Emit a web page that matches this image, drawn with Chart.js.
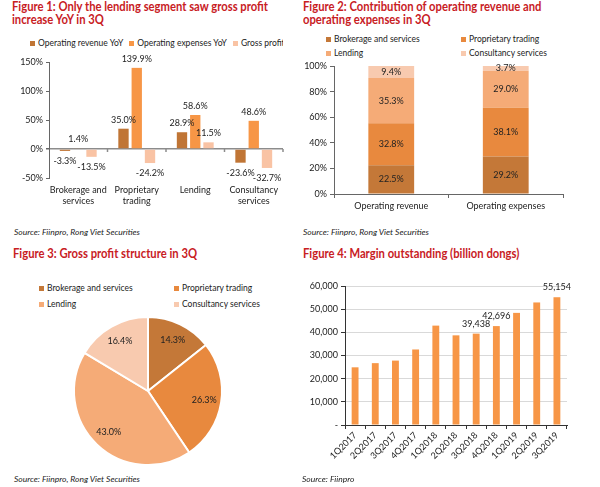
<!DOCTYPE html>
<html>
<head>
<meta charset="utf-8">
<script src="https://cdn.jsdelivr.net/npm/chart.js@4.4.0/dist/chart.umd.min.js"></script>
<style>
  body { margin: 0; width: 600px; height: 487px; background: #fff; position: relative; overflow: hidden;
         font-family: Lato, "Open Sans", sans-serif; color: #222; }
  .title { position: absolute; color: #C8201F; font-weight: bold; font-size: 12.5px; line-height: 13px;
           font-family: Lato, sans-serif; white-space: nowrap; transform: scaleX(0.9); transform-origin: left top; }
  .source { position: absolute; font-style: italic; font-size: 8.5px; line-height: 12px; white-space: nowrap; }
  .box { position: absolute; }
  .legend { position: absolute; font-size: 8.5px; white-space: nowrap; overflow: hidden; }
  .legend .item { display: flex; align-items: center; }
  .legend i { display: inline-block; width: 5px; height: 5px; margin-right: 3px; }
  #legend1 { display: flex; line-height: 12px; }
  #legend1 .item { margin-right: 6px; }
  #legend2, #legend3 { display: grid; grid-template-columns: 135px 135px; }
  #legend2 { line-height: 14px; }
  #legend3 { line-height: 16px; }
</style>
</head>
<body>

<div class="title" style="left:12px; top:0px">Figure 1: Only the lending segment saw gross profit<br>increase YoY in 3Q</div>
<div class="legend" id="legend1" style="left:30px; top:37px; width:253px"></div>
<div class="box" style="left:0; top:50px; width:290px; height:162px"><canvas id="chart1"></canvas></div>
<div class="source" style="left:14px; top:226px">Source: Fiinpro, Rong Viet Securities</div>

<div class="title" style="left:303px; top:0px">Figure 2: Contribution of operating revenue and<br>operating expenses in 3Q</div>
<div class="legend" id="legend2" style="left:326px; top:32px"></div>
<div class="box" style="left:300px; top:56px; width:300px; height:158px"><canvas id="chart2"></canvas></div>
<div class="source" style="left:303px; top:226px">Source: Fiinpro, Rong Viet Securities</div>

<div class="title" style="left:13px; top:247px">Figure 3: Gross profit structure in 3Q</div>
<div class="legend" id="legend3" style="left:39px; top:280px"></div>
<div class="box" style="left:0; top:311px; width:300px; height:160px"><canvas id="chart3"></canvas></div>
<div class="source" style="left:14px; top:473px">Source: Fiinpro, Rong Viet Securities</div>

<div class="title" style="left:303px; top:247px">Figure 4: Margin outstanding (billion dongs)</div>
<div class="box" style="left:300px; top:275px; width:300px; height:200px"><canvas id="chart4"></canvas></div>
<div class="source" style="left:302px; top:473px">Source: Fiinpro</div>

<script>
// Figure 1 - YoY growth by segment (%)
const segments1 = [['Brokerage and', 'services'], ['Proprietary', 'trading'], 'Lending', ['Consultancy', 'services']];
const revenueYoY = [-3.3, 35.0, 28.9, -23.6];
const expensesYoY = [1.4, 139.9, 58.6, 48.6];
const grossProfitYoY = [-13.5, -24.2, 11.5, -32.7];

// Figure 2 - contribution (%)
const segmentNames = ['Brokerage and services', 'Proprietary trading', 'Lending', 'Consultancy services'];
const contribCategories = ['Operating revenue', 'Operating expenses'];
const brokerageShare = [22.5, 29.2];
const proprietaryShare = [32.8, 38.1];
const lendingShare = [35.3, 29.0];
const consultancyShare = [9.4, 3.7];

// Figure 3 - gross profit structure (%)
const grossProfitShare = [14.3, 26.3, 43.0, 16.4];

// Figure 4 - margin outstanding (billion dongs)
const quarters = ['1Q2017', '2Q2017', '3Q2017', '4Q2017', '1Q2018', '2Q2018', '3Q2018', '4Q2018', '1Q2019', '2Q2019', '3Q2019'];
const marginOutstanding = [24900, 26700, 27800, 32600, 42900, 38700, 39438, 42696, 48400, 52900, 55154];
const labelledQuarters = ['3Q2018', '4Q2018', '3Q2019'];

const segmentColors = ['#C47838', '#E8893E', '#F5AB77', '#F8CAAF'];
const FONT = 'Lato';

Chart.defaults.font.family = FONT;
Chart.defaults.font.size = 9;
Chart.defaults.color = '#222';
Chart.defaults.animation = false;
Chart.defaults.responsive = true;
Chart.defaults.maintainAspectRatio = false;
Chart.defaults.plugins.legend.display = false;
Chart.defaults.plugins.tooltip.enabled = false;

// build an html legend from the chart's own legend items
function htmlLegend(chart, id) {
  const el = document.getElementById(id);
  const items = chart.options.plugins.legend.labels.generateLabels(chart);
  items.forEach(item => {
    const div = document.createElement('div');
    div.className = 'item';
    div.innerHTML = `<i style="background:${item.fillStyle}"></i>${item.text}`;
    el.appendChild(div);
  });
}

function fixWidth(w) {
  return scale => { scale.width = w; };
}
function fixHeight(h) {
  return scale => { scale.height = h; };
}

// Figure 1
const chart1 = new Chart(document.getElementById('chart1'), {
  type: 'bar',
  data: {
    labels: segments1,
    datasets: [
      { label: 'Operating revenue YoY', data: revenueYoY, backgroundColor: '#C07535' },
      { label: 'Operating expenses YoY', data: expensesYoY, backgroundColor: '#F79646' },
      { label: 'Gross profit YoY', data: grossProfitYoY, backgroundColor: '#F9C3A4' }
    ]
  },
  options: {
    layout: { padding: { top: 12, right: 7, bottom: 0, left: 0 } },
    datasets: { bar: { categoryPercentage: 0.68, barPercentage: 0.78 } },
    scales: {
      x: {
        grid: { display: false, drawTicks: false },
        border: { display: false },
        ticks: { padding: 7, maxRotation: 0, autoSkip: false },
        afterFit: fixHeight(34)
      },
      y: {
        min: -50, max: 150,
        ticks: { stepSize: 50, padding: 3, callback: v => v + '%' },
        grid: {
          color: c => c.tick && c.tick.value === 0 ? '#8C8C8C' : 'transparent',
          lineWidth: c => c.tick && c.tick.value === 0 ? 1.5 : 1,
          tickColor: '#666', tickLength: 3
        },
        border: { color: '#666' },
        afterFit: fixWidth(49)
      }
    }
  },
  plugins: [{
    id: 'labels1',
    afterDatasetsDraw(chart) {
      const ctx = chart.ctx;
      ctx.save();
      ctx.font = `9px ${FONT}`;
      ctx.fillStyle = '#222';
      ctx.textAlign = 'center';
      ctx.textBaseline = 'middle';
      chart.data.datasets.forEach((ds, i) => {
        chart.getDatasetMeta(i).data.forEach((bar, j) => {
          const v = ds.data[j];
          ctx.fillText(v.toFixed(1) + '%', bar.x, v >= 0 ? bar.y - 9 : bar.y + 10);
        });
      });
      // little ticks on the zero line between categories
      const xs = chart.scales.x;
      const y0 = chart.scales.y.getPixelForValue(0);
      ctx.strokeStyle = '#8C8C8C';
      ctx.lineWidth = 1.5;
      for (let k = 1; k <= segments1.length; k++) {
        const x = k < segments1.length ? (xs.getPixelForTick(k - 1) + xs.getPixelForTick(k)) / 2 : xs.right;
        ctx.beginPath();
        ctx.moveTo(x, y0);
        ctx.lineTo(x, y0 + 3);
        ctx.stroke();
      }
      ctx.restore();
    }
  }]
});
htmlLegend(chart1, 'legend1');

// Figure 2
const shares = [brokerageShare, proprietaryShare, lendingShare, consultancyShare];
const chart2 = new Chart(document.getElementById('chart2'), {
  type: 'bar',
  data: {
    labels: contribCategories,
    datasets: segmentNames.map((name, i) => ({
      label: name, data: shares[i], backgroundColor: segmentColors[i]
    }))
  },
  options: {
    layout: { padding: { top: 10, right: 37, bottom: 0, left: 0 } },
    datasets: { bar: { categoryPercentage: 0.8, barPercentage: 0.5 } },
    scales: {
      x: {
        stacked: true,
        grid: { drawOnChartArea: false, tickLength: 4, tickColor: '#666' },
        border: { color: '#666' },
        ticks: { padding: 3 },
        afterFit: fixHeight(20)
      },
      y: {
        stacked: true,
        min: 0, max: 100,
        ticks: { stepSize: 20, padding: 3, callback: v => v + '%' },
        grid: { drawOnChartArea: false, tickLength: 4, tickColor: '#666' },
        border: { color: '#666' },
        afterFit: fixWidth(34)
      }
    }
  },
  plugins: [{
    id: 'labels2',
    afterDatasetsDraw(chart) {
      const ctx = chart.ctx;
      ctx.save();
      ctx.font = `9px ${FONT}`;
      ctx.fillStyle = '#222';
      ctx.textAlign = 'center';
      ctx.textBaseline = 'middle';
      chart.data.datasets.forEach((ds, i) => {
        chart.getDatasetMeta(i).data.forEach((bar, j) => {
          const { x, y, base } = bar.getProps(['x', 'y', 'base'], true);
          ctx.fillText(ds.data[j].toFixed(1) + '%', x, (y + base) / 2);
        });
      });
      ctx.restore();
    }
  }]
});
htmlLegend(chart2, 'legend2');

// Figure 3
const chart3 = new Chart(document.getElementById('chart3'), {
  type: 'pie',
  data: {
    labels: segmentNames,
    datasets: [{ data: grossProfitShare, backgroundColor: segmentColors, borderColor: '#fff', borderWidth: 2 }]
  },
  options: {
    layout: { padding: { top: 5, right: 4, bottom: 5, left: 0 } }
  },
  plugins: [{
    id: 'labels3',
    afterDatasetsDraw(chart) {
      const ctx = chart.ctx;
      ctx.save();
      ctx.font = `9px ${FONT}`;
      ctx.fillStyle = '#222';
      ctx.textAlign = 'center';
      ctx.textBaseline = 'middle';
      chart.getDatasetMeta(0).data.forEach((arc, j) => {
        const { x, y, startAngle, endAngle, outerRadius } = arc.getProps(['x', 'y', 'startAngle', 'endAngle', 'outerRadius'], true);
        const mid = (startAngle + endAngle) / 2;
        const r = outerRadius * 0.77;
        ctx.fillText(grossProfitShare[j].toFixed(1) + '%', x + Math.cos(mid) * r, y + Math.sin(mid) * r);
      });
      ctx.restore();
    }
  }]
});
htmlLegend(chart3, 'legend3');

// Figure 4
new Chart(document.getElementById('chart4'), {
  type: 'bar',
  data: {
    labels: quarters,
    datasets: [{ label: 'Margin outstanding', data: marginOutstanding, backgroundColor: '#F79646' }]
  },
  options: {
    layout: { padding: { top: 11, right: 33, bottom: 0, left: 0 } },
    datasets: { bar: { categoryPercentage: 1, barPercentage: 0.34 } },
    scales: {
      x: {
        grid: { drawOnChartArea: false, tickLength: 4, tickColor: '#333' },
        border: { color: '#333' },
        ticks: { minRotation: 45, maxRotation: 45, padding: 1, autoSkip: false },
        afterFit: fixHeight(50)
      },
      y: {
        min: 0, max: 60000,
        ticks: { stepSize: 10000, padding: 3, callback: v => v === 0 ? '-' : v.toLocaleString('en-US') },
        grid: { color: '#D9D9D9', tickColor: '#333', tickLength: 4 },
        border: { color: '#333' },
        afterFit: fixWidth(45)
      }
    }
  },
  plugins: [{
    id: 'labels4',
    afterDatasetsDraw(chart) {
      const ctx = chart.ctx;
      ctx.save();
      ctx.font = `9px ${FONT}`;
      ctx.fillStyle = '#222';
      ctx.textAlign = 'center';
      ctx.textBaseline = 'middle';
      chart.getDatasetMeta(0).data.forEach((bar, j) => {
        if (!labelledQuarters.includes(quarters[j])) return;
        ctx.fillText(marginOutstanding[j].toLocaleString('en-US'), bar.x, bar.y - 10);
      });
      ctx.restore();
    }
  }]
});
</script>
</body>
</html>
